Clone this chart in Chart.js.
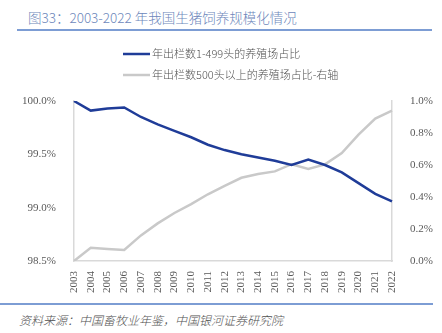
<!DOCTYPE html>
<html>
<head>
<meta charset="utf-8">
<script src="https://cdn.jsdelivr.net/npm/chart.js@4/dist/chart.umd.min.js"></script>
<style>
    html, body { margin: 0; padding: 0; background: #fff; }
    body { width: 442px; height: 333px; position: relative; overflow: hidden; }
    .title {
        position: absolute; left: 28px; top: 7px;
        font: 300 13.5px "Noto Sans CJK SC", sans-serif; color: #6d87bb;
        white-space: nowrap;
    }
    .rule { position: absolute; left: 17px; width: 415px; height: 1.5px; background: #7d9dd4; }
    .source {
        position: absolute; left: 19px; top: 311px;
        font: italic 300 12px "Noto Sans CJK SC", sans-serif; color: #505050;
        white-space: nowrap;
    }
    #chartBox { position: absolute; left: 0; top: 40px; width: 442px; height: 262px; }
</style>
</head>
<body>
<div class="title">图33：2003-2022 年我国生猪饲养规模化情况</div>
<div class="rule" style="top:29px"></div>
<div id="chartBox"><canvas id="scaleChart"></canvas></div>
<div class="rule" style="top:303px; left:0; width:433px"></div>
<div class="source">资料来源：中国畜牧业年鉴，中国银河证券研究院</div>

<script>
// Years and shares (%)
const years = ['2003', '2004', '2005', '2006', '2007', '2008', '2009', '2010', '2011', '2012',
               '2013', '2014', '2015', '2016', '2017', '2018', '2019', '2020', '2021', '2022'];
const smallFarmShare = [100.0, 99.91, 99.93, 99.94, 99.85, 99.78, 99.72, 99.66, 99.59, 99.54,
                        99.50, 99.47, 99.44, 99.40, 99.45, 99.40, 99.33, 99.23, 99.13, 99.06];
const largeFarmShare = [0.0, 0.083, 0.075, 0.069, 0.16, 0.235, 0.30, 0.356, 0.417, 0.47,
                        0.52, 0.544, 0.56, 0.605, 0.575, 0.604, 0.675, 0.79, 0.89, 0.94];
const seriesNames = ['年出栏数1-499头的养殖场占比', '年出栏数500头以上的养殖场占比-右轴'];

const BLUE = '#1f3c98';
const GREY = '#c9c9c9';
const AXIS = '#d9d9d9';
const tickFont = { family: '"Liberation Serif", serif', size: 11 };

// two-row legend, left aligned
const stackedLegend = {
    id: 'stackedLegend',
    afterDraw(chart) {
        const ctx = chart.ctx;
        ctx.save();
        ctx.font = '300 11px "Noto Sans CJK SC", sans-serif';
        ctx.textBaseline = 'middle';
        chart.data.datasets.forEach((ds, i) => {
            const y = 14 + i * 21;
            ctx.strokeStyle = ds.borderColor;
            ctx.lineWidth = 2.5;
            ctx.beginPath();
            ctx.moveTo(123, y);
            ctx.lineTo(150, y);
            ctx.stroke();
            ctx.fillStyle = '#505050';
            ctx.fillText(ds.label, 152, y);
        });
        ctx.restore();
    }
};

new Chart(document.getElementById('scaleChart'), {
    type: 'line',
    data: {
        labels: years,
        datasets: [
            {
                label: seriesNames[0],
                data: smallFarmShare,
                yAxisID: 'yLeft',
                borderColor: BLUE,
                borderWidth: 2.5,
                pointRadius: 0,
                tension: 0
            },
            {
                label: seriesNames[1],
                data: largeFarmShare,
                yAxisID: 'yRight',
                borderColor: GREY,
                borderWidth: 2.5,
                pointRadius: 0,
                tension: 0
            }
        ]
    },
    options: {
        responsive: true,
        maintainAspectRatio: false,
        animation: false,
        layout: { padding: { top: 61, left: 0, right: 0, bottom: 0 } },
        plugins: {
            legend: { display: false },
            tooltip: { enabled: false }
        },
        scales: {
            x: {
                grid: { display: false },
                border: { display: true, color: AXIS, width: 1.5 },
                ticks: {
                    color: '#595959', font: tickFont,
                    minRotation: 90, maxRotation: 90, autoSkip: false, padding: 2
                },
                afterFit(scale) { scale.height = 41; }
            },
            yLeft: {
                position: 'left',
                min: 98.5, max: 100,
                grid: { display: false },
                border: { display: true, color: AXIS, width: 1.5 },
                ticks: {
                    stepSize: 0.5, color: '#595959', font: tickFont, padding: 10,
                    callback: v => v.toFixed(1) + '%'
                },
                afterFit(scale) { scale.width = 74; }
            },
            yRight: {
                position: 'right',
                min: 0, max: 1.0,
                grid: { display: false },
                border: { display: true, color: AXIS, width: 1.5 },
                ticks: {
                    stepSize: 0.2, color: '#595959', font: tickFont, padding: 10,
                    callback: v => v.toFixed(1) + '%'
                },
                afterFit(scale) { scale.width = 50; }
            }
        }
    },
    plugins: [stackedLegend]
});
</script>
</body>
</html>
